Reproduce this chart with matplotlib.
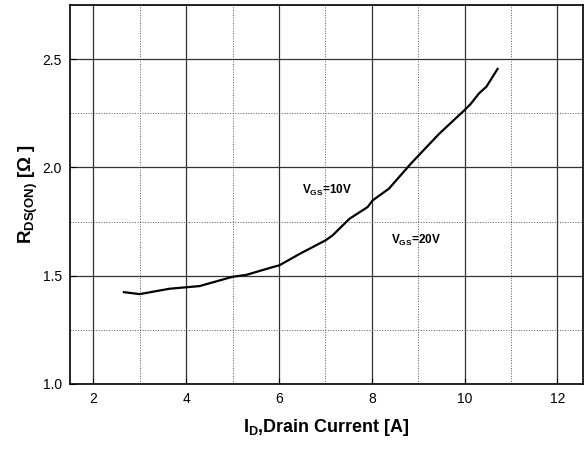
import matplotlib.pyplot as plt
from matplotlib.ticker import MultipleLocator

# ---- data ----
drain_current = [2.66, 3.0, 3.65, 4.29, 5.0, 5.3, 5.87, 6.01, 6.44, 7.01, 7.16, 7.52,
                 7.91, 8.02, 8.37, 8.84, 9.45, 9.99, 10.13, 10.31, 10.47, 10.71]
rds_on = [1.424, 1.415, 1.44, 1.452, 1.495, 1.504, 1.54, 1.548, 1.60, 1.664, 1.687, 1.763,
          1.817, 1.848, 1.902, 2.017, 2.155, 2.263, 2.293, 2.342, 2.373, 2.455]

label_10v = (6.5, 1.895)
label_20v = (8.41, 1.664)

plt.rcParams['font.family'] = ['Liberation Sans', 'DejaVu Sans']
plt.rcParams['mathtext.fontset'] = 'custom'
plt.rcParams['mathtext.bf'] = 'Liberation Sans:bold'
plt.rcParams['mathtext.rm'] = 'Liberation Sans'

fig = plt.figure(figsize=(5.86, 4.5), dpi=100)
ax = fig.add_axes([0.1195, 0.1467, 0.8754, 0.8422])

ax.plot(drain_current, rds_on, color='black', lw=1.6)

ax.set_xlim(1.5, 12.55)
ax.set_ylim(1.0, 2.75)
ax.xaxis.set_major_locator(MultipleLocator(2))
ax.xaxis.set_minor_locator(MultipleLocator(1))
ax.yaxis.set_major_locator(MultipleLocator(0.5))
ax.yaxis.set_minor_locator(MultipleLocator(0.25))
ax.yaxis.set_major_formatter(plt.FormatStrFormatter('%.1f'))

ax.grid(which='major', color='#333333', lw=0.9, ls='-')
ax.grid(which='minor', color='#555555', lw=0.7, ls=':')
ax.tick_params(which='major', direction='in', length=4, labelsize=10, pad=6)
ax.tick_params(which='minor', length=0)
for s in ax.spines.values():
    s.set_linewidth(1.2)

ax.set_xlabel(r'I$_\mathbf{D}$,Drain Current [A]', fontsize=13, fontweight='bold', labelpad=8)
ax.set_ylabel('R$_\\mathbf{DS(ON)}$ [\u03a9 ]', fontsize=13.5, fontweight='bold', labelpad=2)

ax.text(*label_10v, r'V$_\mathbf{GS}$=10V', fontsize=8.5, fontweight='bold', va='center')
ax.text(*label_20v, r'V$_\mathbf{GS}$=20V', fontsize=8.5, fontweight='bold', va='center')

fig.savefig('out.png', dpi=100)
